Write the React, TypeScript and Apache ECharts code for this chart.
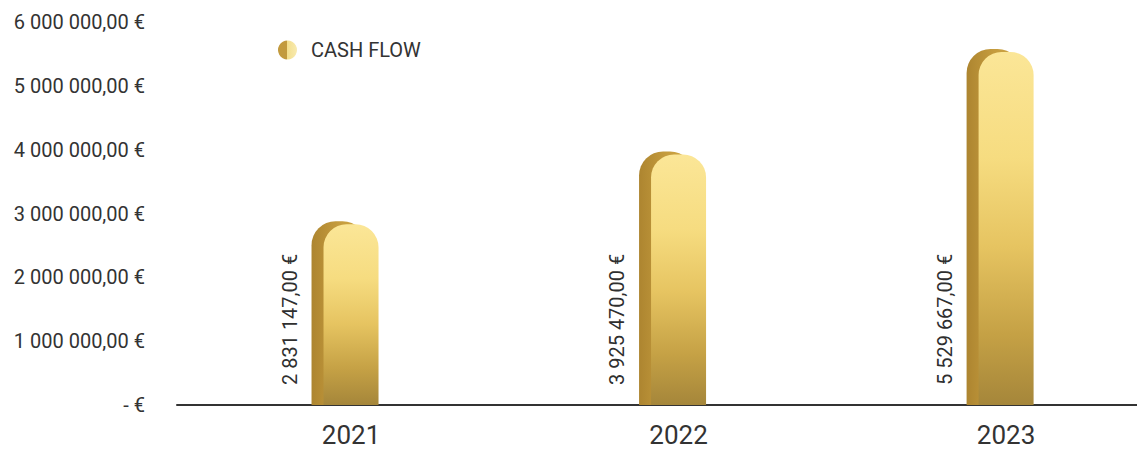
import React, { useEffect, useRef } from "react";
import * as echarts from "echarts";

const categories = ["2021", "2022", "2023"];
const cashFlow = [2831147, 3925470, 5529667];
const seriesName = "CASH FLOW";
const yTicks = { min: 0, max: 6000000, interval: 1000000 };

function fmtEuro(v: number): string {
  if (v === 0) return "- €";
  const s = Math.round(v).toString().replace(/\B(?=(\d{3})+(?!\d))/g, " ");
  return s + ",00 €";
}

export default function App() {
  const ref = useRef<HTMLDivElement>(null);
  useEffect(() => {
    if (!ref.current) return;
    const chart = echarts.init(ref.current, undefined, { renderer: "svg" });
    const frontFill = new echarts.graphic.LinearGradient(0, 0, 0, 1, [
      { offset: 0, color: "#fbe697" },
      { offset: 0.3, color: "#f6dc80" },
      { offset: 0.55, color: "#e6c461" },
      { offset: 0.8, color: "#c5a145" },
      { offset: 1, color: "#a5863a" },
    ]);
    const backFill = new echarts.graphic.LinearGradient(0, 0, 1, 0, [
      { offset: 0, color: "#ad8530" },
      { offset: 0.5, color: "#c59c3e" },
      { offset: 1, color: "#d2aa46" },
    ]);
    const legendFill = new echarts.graphic.LinearGradient(0, 0, 1, 0, [
      { offset: 0, color: "#c29a3e" },
      { offset: 0.5, color: "#c29a3e" },
      { offset: 0.5, color: "#f3df8e" },
      { offset: 1, color: "#f8eab0" },
    ]);
    chart.setOption({
      animation: false,
      textStyle: { fontFamily: "Roboto" },
      grid: { left: 177, top: 22, right: 0, bottom: 45, containLabel: false },
      legend: {
        left: 273,
        top: 35,
        itemWidth: 19,
        itemHeight: 19,
        data: [{ name: seriesName, icon: "circle", itemStyle: { color: legendFill } }],
        textStyle: { fontSize: 20, color: "#333", fontFamily: "Roboto", padding: [0, 0, 0, 9] },
      },
      xAxis: {
        type: "value",
        min: -0.513,
        max: 2.418,
        splitLine: { show: false },
        axisLine: { onZero: false, lineStyle: { color: "#333", width: 2 } },
        axisTick: { show: false },
        axisLabel: {
          fontSize: 26,
          color: "#333",
          margin: 17,
          fontFamily: "Roboto",
          padding: [0, 0, 0, 12],
          customValues: [0, 1, 2],
          formatter: (v: number) => categories[Math.round(v)] ?? "",
        },
      },
      yAxis: {
        type: "value",
        min: yTicks.min,
        max: yTicks.max,
        interval: yTicks.interval,
        splitLine: { show: false },
        axisLine: { show: false },
        axisTick: { show: false },
        axisLabel: {
          fontSize: 20,
          color: "#333",
          margin: 32,
          fontFamily: "Roboto",
          formatter: (v: number) => fmtEuro(v),
        },
      },
      series: [
        {
          type: "custom",
          name: seriesName,
          data: categories.map((c, i) => [i, cashFlow[i]]),
          itemStyle: { color: "#d4ae4a" },
          renderItem: (params: any, api: any) => {
            const i = api.value(0);
            const v = api.value(1);
            const top = api.coord([i, v]);
            const base = api.coord([i, 0]);
            const cx = top[0];
            const w = 55;
            const dx = 12;
            const dy = 3;
            const left = cx - (w + dx) / 2;
            const h = base[1] - top[1];
            return {
              type: "group",
              children: [
                {
                  type: "rect",
                  shape: { x: left, y: top[1] - dy, width: w, height: h + dy, r: [24, 24, 0, 0] },
                  style: { fill: backFill },
                },
                {
                  type: "rect",
                  shape: { x: left + dx, y: top[1], width: w, height: h, r: [23, 23, 0, 0] },
                  style: { fill: frontFill },
                },
                {
                  type: "text",
                  x: left - 22,
                  y: base[1] - 20,
                  rotation: Math.PI / 2,
                  style: {
                    text: fmtEuro(v),
                    fontSize: 20,
                    fontFamily: "Roboto",
                    fill: "#2f2f2f",
                    align: "left",
                    verticalAlign: "middle",
                  },
                },
              ],
            };
          },
        },
      ],
    });
    return () => chart.dispose();
  }, []);
  return (
    <div
      ref={ref}
      style={{ position: "fixed", left: 0, top: 0, width: 1137, height: 450, background: "#fff" }}
    />
  );
}
